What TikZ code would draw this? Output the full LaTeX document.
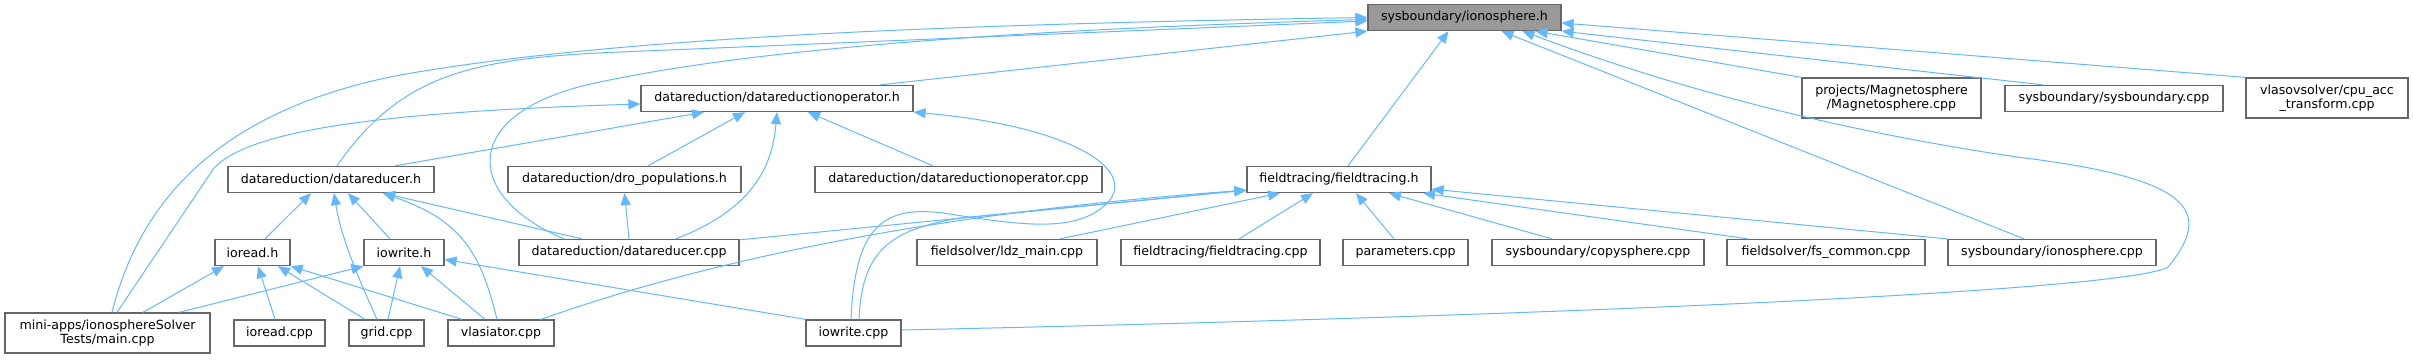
\documentclass[tikz,border=0pt]{standalone}
\usepackage{fontspec}
\setmainfont{DejaVu Sans}
\usetikzlibrary{arrows.meta}
\definecolor{edgeblue}{HTML}{63B8FF}
\definecolor{boxline}{HTML}{666666}
\definecolor{boxfill}{HTML}{999999}

\begin{document}
\begin{tikzpicture}[x=1pt, y=-1pt,
  file/.style={draw=boxline, line width=1.3pt, fill=white, inner sep=0pt,
    minimum height=26pt, align=center, font=\fontsize{12.6}{14.5}\selectfont},
  twoline/.style={minimum height=40pt},
  dep/.style={draw=edgeblue, line width=1pt, -{Triangle[length=12pt,width=10pt]}}]
  \useasboundingbox (0,0) rectangle (2413,359);

  % Header at the top
  \node[file, fill=boxfill, minimum width=193pt] (ionoh) at (1464.5,17.5) {sysboundary/ionosphere.h};

  % Second row
  \node[file, minimum width=272pt] (dropoh) at (777,98.5) {datareduction/datareductionoperator.h};
  \node[file, twoline, minimum width=179pt] (magneto) at (1891.5,98) {projects/Magnetosphere\\/Magnetosphere.cpp};
  \node[file, minimum width=218pt] (sysbcpp) at (2114,98.5) {sysboundary/sysboundary.cpp};
  \node[file, twoline, minimum width=162pt] (cpuacc) at (2327,98) {vlasovsolver/cpu\_acc\\\_transform.cpp};

  % Third row
  \node[file, minimum width=206pt] (dredh) at (331,179.5) {datareduction/datareducer.h};
  \node[file, minimum width=233pt] (dropop) at (624.5,179.5) {datareduction/dro\_populations.h};
  \node[file, minimum width=287pt] (dropocpp) at (958.5,179.5) {datareduction/datareductionoperator.cpp};
  \node[file, minimum width=184pt] (fth) at (1339,179.5) {fieldtracing/fieldtracing.h};

  % Fourth row
  \node[file, minimum width=75pt] (ioreadh) at (252.5,252.5) {ioread.h};
  \node[file, minimum width=80pt] (iowriteh) at (404,252.5) {iowrite.h};
  \node[file, minimum width=220pt] (dredcpp) at (629,252.5) {datareduction/datareducer.cpp};
  \node[file, minimum width=180pt] (ldz) at (1007,252.5) {fieldsolver/ldz\_main.cpp};
  \node[file, minimum width=199pt] (ftcpp) at (1220.5,252.5) {fieldtracing/fieldtracing.cpp};
  \node[file, minimum width=125pt] (params) at (1405.5,252.5) {parameters.cpp};
  \node[file, minimum width=212pt] (copysph) at (1598,252.5) {sysboundary/copysphere.cpp};
  \node[file, minimum width=198pt] (fscommon) at (1826,252.5) {fieldsolver/fs\_common.cpp};
  \node[file, minimum width=208pt] (ionocpp) at (2052,252.5) {sysboundary/ionosphere.cpp};

  % Bottom row
  \node[file, twoline, minimum width=205pt] (mainapp) at (107.5,333) {mini-apps/ionosphereSolver\\Tests/main.cpp};
  \node[file, minimum width=91pt] (ioreadcpp) at (279.5,333) {ioread.cpp};
  \node[file, minimum width=75pt] (gridcpp) at (386.5,333) {grid.cpp};
  \node[file, minimum width=106pt] (vlascpp) at (501,333) {vlasiator.cpp};
  \node[file, minimum width=95pt] (iowritecpp) at (853.5,333) {iowrite.cpp};

  % Edges into sysboundary/ionosphere.h
  \draw[dep] ([xshift=103pt]dropoh.north) -- (ionoh.south west);
  \draw[dep] ([xshift=6pt]dredh.north) .. controls (400,75) and (470,58) .. (620,52) -- ([yshift=-3.5pt]ionoh.west);
  \draw[dep] ([xshift=4.5pt]mainapp.north) .. controls (140,200) and (220,110) .. (400,75)
    .. controls (600,40) and (900,25) .. (ionoh.west);
  \draw[dep] ([xshift=-65pt]dredcpp.north) .. controls (460,195) and (460,110) .. (600,82)
    .. controls (750,50) and (1000,30) .. ([yshift=-2pt]ionoh.west);
  \draw[dep] ([xshift=9pt]fth.north) -- ([xshift=-16pt]ionoh.south);
  \draw[dep] ([yshift=3pt]iowritecpp.east) .. controls (1600,315) and (2130,290) .. (2168,267)
    .. controls (2215,210) and (2190,178) .. (2017,157)
    .. controls (1800,125) and (1640,75) .. ([xshift=58pt]ionoh.south);
  \draw[dep] ([xshift=-28pt]ionocpp.north) -- ([xshift=37pt]ionoh.south);
  \draw[dep] (magneto.north west) -- ([xshift=71pt]ionoh.south);
  \draw[dep] ([xshift=-71pt]sysbcpp.north) -- (ionoh.south east);
  \draw[dep] (cpuacc.north west) -- ([yshift=-5.5pt]ionoh.east);

  % Edges into datareductionoperator.h
  \draw[dep] ([xshift=64pt]dredh.north) -- ([xshift=-73pt]dropoh.south);
  \draw[dep] ([xshift=9.5pt]mainapp.north) -- (214,168) .. controls (250,130) and (380,112) .. ([yshift=-5.5pt]dropoh.west);
  \draw[dep] ([xshift=23.5pt]dropop.north) -- ([xshift=-32pt]dropoh.south);
  \draw[dep] ([xshift=47pt]dredcpp.north) .. controls (750,210) and (772,170) .. (dropoh.south);
  \draw[dep] ([xshift=-25.5pt]dropocpp.north) -- ([xshift=31pt]dropoh.south);
  \draw[dep] ([xshift=-2.5pt]iowritecpp.north) .. controls (855,230) and (880,205) .. (943,213)
    .. controls (1020,225) and (1080,235) .. (1110,200)
    .. controls (1135,165) and (1060,125) .. (dropoh.south east);

  % Edges into fieldtracing.h
  \draw[dep] ([yshift=-1pt]dredcpp.north east) -- ([yshift=3pt]fth.south west);
  \draw[dep] ([xshift=40pt]vlascpp.north) .. controls (680,270) and (900,215) .. ([yshift=3pt]fth.south west);
  \draw[dep] ([xshift=5.5pt]iowritecpp.north) .. controls (862,250) and (890,230) .. (960,218) -- ([yshift=3pt]fth.south west);
  \draw[dep] ([xshift=53pt]ldz.north) -- ([xshift=-59pt]fth.south);
  \draw[dep] ([xshift=18.5pt]ftcpp.north) -- ([xshift=-26pt]fth.south);
  \draw[dep] ([xshift=-11.5pt]params.north) -- ([xshift=17pt]fth.south);
  \draw[dep] ([xshift=-46pt]copysph.north) -- ([xshift=50pt]fth.south);
  \draw[dep] ([xshift=-78pt]fscommon.north) -- ([xshift=84pt]fth.south);
  \draw[dep] (ionocpp.north west) -- ([yshift=4pt]fth.south east);

  % Edges into datareducer.h and dro_populations.h
  \draw[dep] ([xshift=12.5pt]ioreadh.north) -- ([xshift=-20pt]dredh.south);
  \draw[dep] ([xshift=-9.5pt]gridcpp.north) .. controls (350,260) and (340,230) .. ([xshift=3pt]dredh.south);
  \draw[dep] ([xshift=-14pt]iowriteh.north) -- ([xshift=17pt]dredh.south);
  \draw[dep] ([xshift=-4pt]vlascpp.north) .. controls (480,250) and (460,220) .. ([xshift=52pt]dredh.south);
  \draw[dep] ([xshift=-47pt]dredcpp.north) -- ([xshift=52pt]dredh.south);
  \draw[dep] (dredcpp.north) -- (dropop.south);

  % Edges into ioread.h
  \draw[dep] ([xshift=35.5pt]mainapp.north) -- ([xshift=-28.5pt]ioreadh.south);
  \draw[dep] ([xshift=-4.5pt]ioreadcpp.north) -- ([xshift=5.5pt]ioreadh.south);
  \draw[dep] ([xshift=-21.5pt]gridcpp.north) -- ([xshift=25.5pt]ioreadh.south);
  \draw[dep] ([xshift=-39pt]vlascpp.north) -- (ioreadh.south east);

  % Edges into iowrite.h
  \draw[dep] ([xshift=71.5pt]mainapp.north) -- (iowriteh.south west);
  \draw[dep] ([xshift=1.5pt]gridcpp.north) -- ([xshift=-4pt]iowriteh.south);
  \draw[dep] ([xshift=-16pt]vlascpp.north) -- ([xshift=17pt]iowriteh.south);
  \draw[dep] (iowritecpp.north west) -- ([yshift=-7pt]iowriteh.east);
\end{tikzpicture}
\end{document}
